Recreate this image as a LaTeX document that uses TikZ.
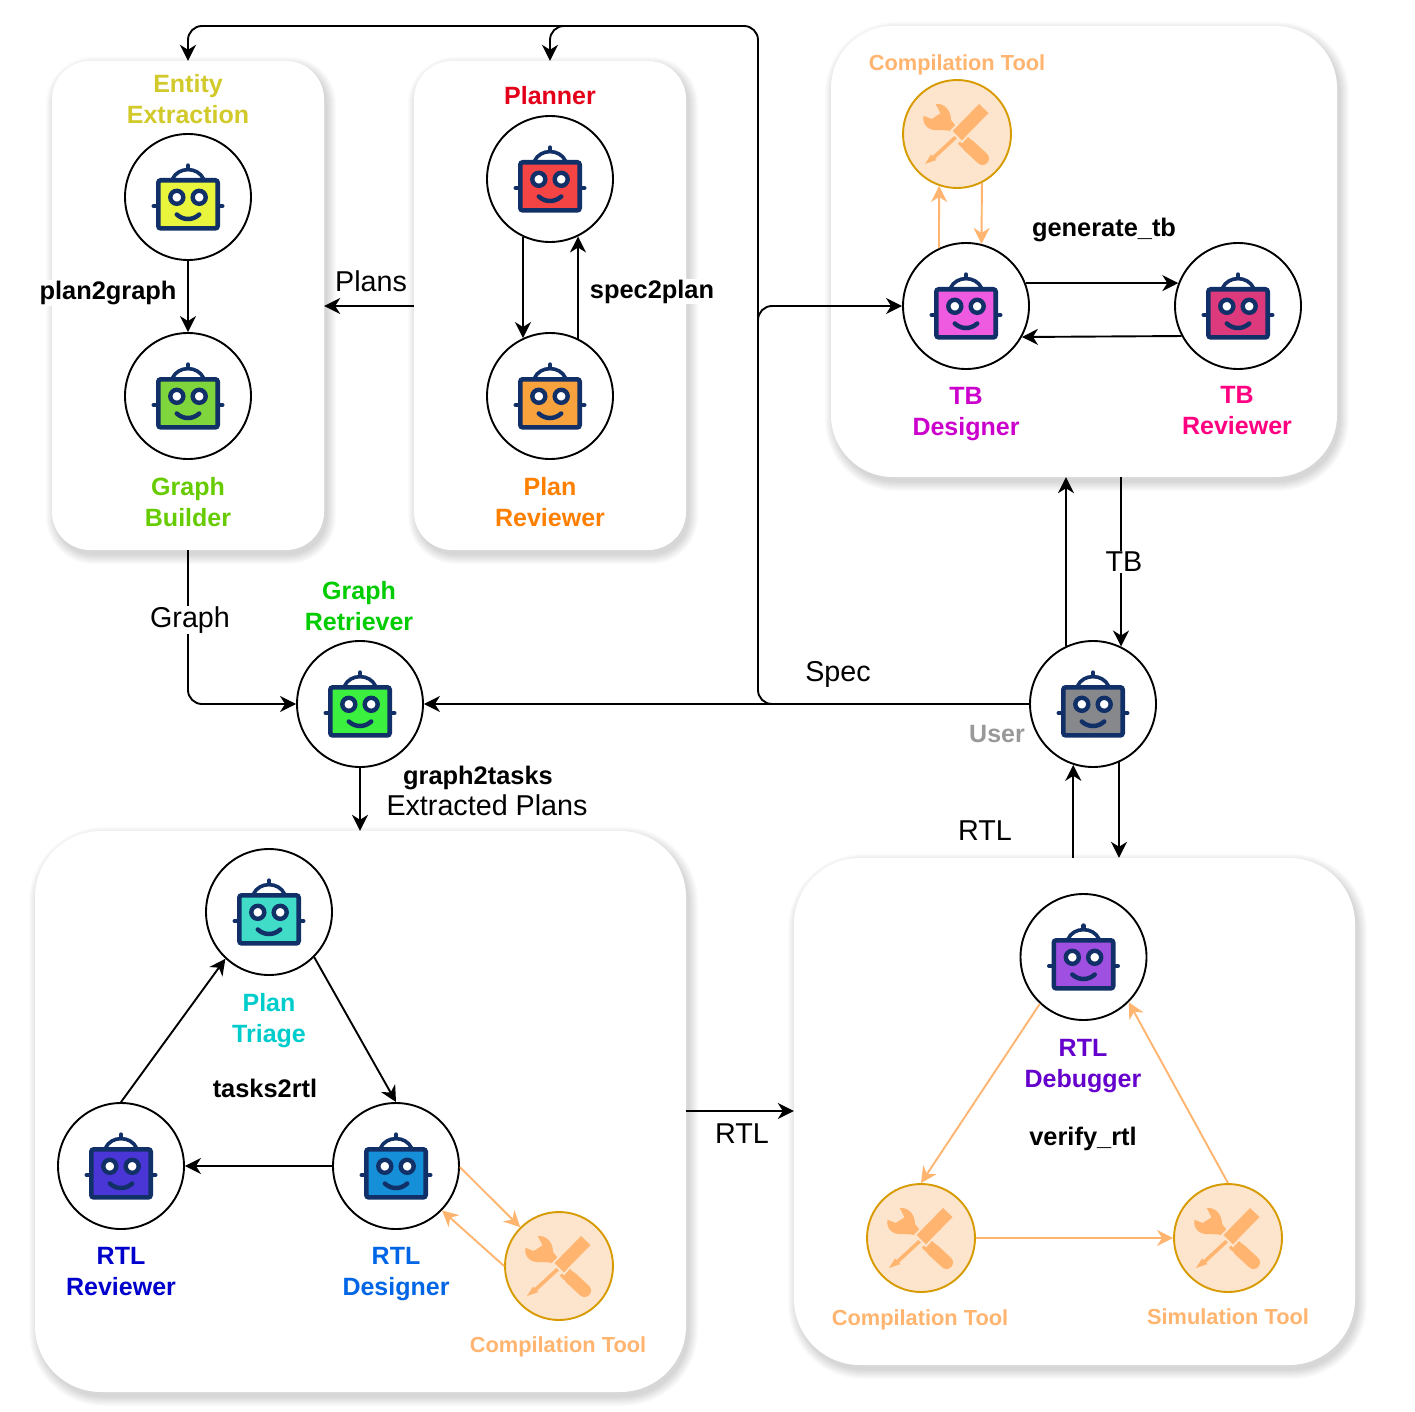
\documentclass[tikz,border=0pt]{standalone}
\usepackage{fontspec}
\setmainfont{Liberation Sans}
\usetikzlibrary{arrows.meta,calc}
\definecolor{navy}{HTML}{123068}
\definecolor{toolc}{HTML}{FFB570}
\definecolor{toolbg}{HTML}{FDE4CC}
\definecolor{toolln}{HTML}{D79B00}
\definecolor{rYellow}{HTML}{E8F53C}
\definecolor{rGreen}{HTML}{7FD63C}
\definecolor{rRed}{HTML}{F44444}
\definecolor{rOrange}{HTML}{F7A23C}
\definecolor{rMagenta}{HTML}{EE5BE0}
\definecolor{rCrimson}{HTML}{DC3A7C}
\definecolor{rLime}{HTML}{3CF040}
\definecolor{rGrey}{HTML}{86888C}
\definecolor{rTeal}{HTML}{40DCC8}
\definecolor{rBlue}{HTML}{1590D8}
\definecolor{rIndigo}{HTML}{4A36D6}
\definecolor{rPurple}{HTML}{A050E0}
\tikzset{
  x=1pt,y=-1pt,
  card/.style={fill=white,draw=none,inner sep=0pt},
  agent/.style={circle,draw=black,fill=white,line width=1.9pt,minimum size=126pt,inner sep=0pt},
  toolnode/.style={circle,draw=toolln,fill=toolbg,line width=1.9pt,minimum size=108pt,inner sep=0pt},
  lab/.style={align=center,inner sep=0pt,font=\fontsize{25}{31}\selectfont\bfseries},
  toollab/.style={lab,text=toolc,font=\fontsize{21.8}{28}\selectfont\bfseries},
  flowlab/.style={align=center,inner sep=1pt,font=\fontsize{25.4}{31}\selectfont\bfseries},
  datalab/.style={align=center,inner sep=1pt,font=\fontsize{28.7}{34}\selectfont},
  conn/.style={draw=black,line width=1.9pt,-{Stealth[length=16pt,width=16pt,inset=5pt]}},
  toolconn/.style={draw=toolc,line width=1.9pt,-{Stealth[length=16pt,width=16pt,inset=5pt]}},
}
\newcommand{\mkcard}[6]{%
  \foreach \i in {0,...,9}{%
    \pgfmathsetmacro{\rr}{#6+\i}%
    \fill[black,opacity=.014,rounded corners=\rr pt]
      ({#2+3-\i},{#3+5-\i}) rectangle ({#4+3+\i},{#5+5+\i});
  }%
  \node[card,rounded corners=#6 pt,minimum width={#4-#2},minimum height={#5-#3}] (#1) at ({(#2+#4)/2},{(#3+#5)/2}) {};
}
\newcommand{\robot}[2]{%
  \begin{scope}[shift={(#1.center)}]
    \draw[navy,line width=4pt,line cap=round] (-34.5,9) -- (34.5,9);
    \draw[navy,line width=4.4pt,line cap=round] (0,-31.5) -- (0,-27);
    \draw[navy,line width=3.6pt,fill=white] (-15.5,-18) .. controls (-10,-30.5) and (10,-30.5) .. (15.5,-18);
    \draw[navy,line width=4.6pt,fill=#2,rounded corners=2.5pt] (-29.7,-16.7) rectangle (29.7,31.4);
    \draw[navy,line width=4.4pt,fill=white] (-11.2,0.3) circle (6.5);
    \draw[navy,line width=4.4pt,fill=white] (11.2,0.3) circle (6.5);
    \draw[navy,line width=4.5pt,line cap=round] (-11.2,17.5) .. controls (-5,23.5) and (5,23.5) .. (11.2,17.5);
  \end{scope}%
}
\newcommand{\toolicon}[1]{%
  \begin{scope}[shift={(#1.center)}]
    % wrench
    \fill[toolc] (-33.7,-18.3) .. controls (-35,-8) and (-27,-3) .. (-19,-4) -- (-9,-3.5) -- (-2,-1) -- (-2,-9) -- (-6,-14)
      .. controls (-6,-24) and (-13,-31) .. (-21.3,-30) -- (-16.5,-20.7) -- (-25.3,-15) -- cycle;
    \draw[toolc,line width=13pt,line cap=round] (12,12) -- (25.5,24.5);
    \draw[toolc,line width=12pt] (5,5.5) -- (14,14);
    % screwdriver
    \draw[toolbg,line width=7pt] (2,2) -- (-8,10);
    \draw[toolc,line width=3.6pt] (1,1) -- (-25,25);
    \fill[toolc] (-26,20.5) -- (-20.5,26) -- (-32,30) -- cycle;
    \draw[toolbg,line width=1.8pt,fill=toolc] (22,-31.5) -- (33,-21) -- (10,2.5) -- (5,8) -- (-6,-3) -- (-1,-8) -- (0,-9) -- cycle;
  \end{scope}%
}
\begin{document}
\begin{tikzpicture}
\useasboundingbox (0,0) rectangle (1415,1412);
\fill[white] (0,0) rectangle (1415,1412);
% cards
\mkcard{entcard}{52}{61}{324}{550}{38}
\mkcard{plancard}{414}{61}{686}{550}{38}
\mkcard{tbcard}{831}{26}{1337}{477}{62}
\mkcard{rtlcard}{35}{831}{686}{1392}{66}
\mkcard{dbgcard}{794}{858}{1355}{1365}{66}
% agents
\node[agent] (entity) at (188,197) {};
\node[agent] (builder) at (188,396) {};
\node[agent] (planner) at (550,179) {};
\node[agent] (planrev) at (550,396) {};
\node[agent] (tbdes) at (966,306) {};
\node[agent] (tbrev) at (1238,306) {};
\node[agent] (retr) at (360,704) {};
\node[agent] (user) at (1093,704) {};
\node[agent] (triage) at (269,912) {};
\node[agent] (rtldes) at (396,1166) {};
\node[agent] (rtlrev) at (121,1166) {};
\node[agent] (debug) at (1083.5,957) {};
\node[toolnode] (tooltb) at (957,134) {};
\node[toolnode] (toolrtl) at (559,1266) {};
\node[toolnode] (toolcomp) at (921,1238) {};
\node[toolnode] (toolsim) at (1228,1238) {};
\robot{entity}{rYellow}
\robot{builder}{rGreen}
\robot{planner}{rRed}
\robot{planrev}{rOrange}
\robot{tbdes}{rMagenta}
\robot{tbrev}{rCrimson}
\robot{retr}{rLime}
\robot{user}{rGrey}
\robot{triage}{rTeal}
\robot{rtldes}{rBlue}
\robot{rtlrev}{rIndigo}
\robot{debug}{rPurple}
\toolicon{tooltb}
\toolicon{toolrtl}
\toolicon{toolcomp}
\toolicon{toolsim}
% free coordinates of the shared Spec line
\coordinate (specjoin) at (758,704);
\coordinate (spectop) at (758,26);
\coordinate (planjoin) at (620,26);
\coordinate (tbjoin) at (758,680);
% connectors
\draw[conn] (entity.south) -- (builder.north);
\draw[conn] (planner.-115.2) -- (planrev.115.2);
\draw[conn] (planrev.64.8) -- (planner.-64.8);
\draw[conn] (plancard.west |- 0,306) -- (entcard.east |- 0,306);
\draw[conn,rounded corners=14pt] (entcard.south) |- (retr.west);
\draw[conn] (user.west) -- (retr.east);
\draw[conn,rounded corners=14pt] (user.west) -- (specjoin) -- (spectop) -| (entcard.north);
\draw[conn,rounded corners=14pt] (planjoin) -| (plancard.north);
\draw[conn,rounded corners=14pt] (tbjoin) |- (tbdes.west);
\draw[conn] (user.115.2) -- (user.115.2 |- tbcard.south);
\draw[conn] (user.64.8 |- tbcard.south) -- (user.64.8);
\draw[conn] (user.-66.8) -- (user.-66.8 |- dbgcard.north);
\draw[conn] (user.-108.4 |- dbgcard.north) -- (user.-108.4);
\draw[conn] (retr.south) -- (retr.south |- rtlcard.north);
\draw[conn] (rtlrev.north) -- (triage.-133.7);
\draw[conn] (triage.-45) -- (rtldes.north);
\draw[conn] (rtldes.west) -- (rtlrev.east);
\draw[conn] (rtlcard.east |- 0,1111) -- (dbgcard.west |- 0,1111);
\draw[conn] (tbdes.21) -- (tbrev.159);
\draw[conn] (tbrev.-152.6) -- (tbdes.-29);
\draw[toolconn] (tbdes.115.2) -- (tooltb.-109.3);
\draw[toolconn] (tooltb.-63.9) -- (tbdes.76.3);
\draw[toolconn] (rtldes.-1) -- (toolrtl.135);
\draw[toolconn] (toolrtl.180) -- (rtldes.-44);
\draw[toolconn] (debug.-133) -- (toolcomp.90);
\draw[toolconn] (toolsim.90) -- (debug.-45.6);
\draw[toolconn] (toolcomp.east) -- (toolsim.west);
% agent labels
\node[lab,text=yellow!80!black] (lent) at (188,99) {Entity\\Extraction};
\node[lab,text=red!90!blue] (lplan) at (550,96) {Planner};
\node[lab,text={rgb,255:red,102;green,204;blue,0}] (lbuild) at (188,502) {Graph\\Builder};
\node[lab,text={rgb,255:red,255;green,128;blue,0}] (lprev) at (550,502) {Plan\\Reviewer};
\node[lab,text={rgb,255:red,0;green,204;blue,0}] (lretr) at (359,606) {Graph\\Retriever};
\node[lab,text={rgb,255:red,204;green,0;blue,204}] (ltbd) at (966,414) {TB\\Designer};
\node[lab,text={rgb,255:red,255;green,0;blue,128}] (ltbr) at (1237,411) {TB\\Reviewer};
\node[lab,text=black!40] (luser) at (997,734) {User};
\node[lab,text={rgb,255:red,0;green,204;blue,204}] (ltri) at (269,1021) {Plan\\Triage};
\node[lab,text={rgb,255:red,0;green,102;blue,230}] (lrtd) at (396,1274) {RTL\\Designer};
\node[lab,text={rgb,255:red,0;green,0;blue,204}] (lrtr) at (121,1272) {RTL\\Reviewer};
\node[lab,text={rgb,255:red,102;green,0;blue,204}] (ldbg) at (1083,1066) {RTL\\Debugger};
\node[toollab] (lt1) at (957,64.5) {Compilation Tool};
\node[toollab] (lt2) at (558,1346.5) {Compilation Tool};
\node[toollab] (lt3) at (920,1319.5) {Compilation Tool};
\node[toollab] (lt4) at (1228,1317) {Simulation Tool};
% flow labels
\node[flowlab,fill=white] (f1) at (108,293) {plan2graph};
\node[flowlab,fill=white] (f2) at (652,291.5) {spec2plan};
\node[flowlab] (f3) at (1104,229.5) {generate\_tb};
\node[flowlab] (f4) at (478,777.5) {graph2tasks};
\node[flowlab] (f5) at (265,1088) {tasks2rtl};
\node[flowlab] (f6) at (1083,1139) {verify\_rtl};
% data labels
\node[datalab] (d1) at (371,281) {Plans};
\node[datalab,fill=white] (d2) at (190,620) {Graph};
\node[datalab] (d3) at (838,674) {Spec};
\node[datalab,fill=white] (d4) at (1124,562) {TB};
\node[datalab] (d5) at (487,805) {Extracted Plans};
\node[datalab] (d6) at (985,831) {RTL};
\node[datalab] (d7) at (742,1134) {RTL};
\end{tikzpicture}
\end{document}
